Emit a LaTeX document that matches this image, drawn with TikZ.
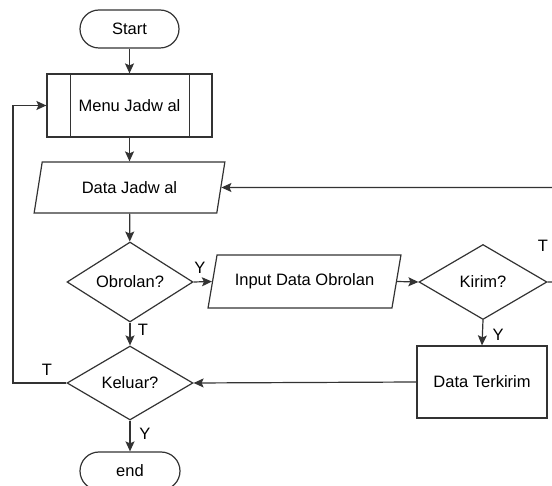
\documentclass[tikz,border=0pt]{standalone}
\usepackage{fontspec}
\setmainfont{Liberation Sans}
\usetikzlibrary{shapes.geometric,arrows.meta,calc}
\begin{document}
\begin{tikzpicture}[x=1pt,y=-1pt,
  every node/.style={font=\fontsize{16.5}{18}\selectfont, text=black},
  ln/.style={draw=black!80, line width=1.2pt},
  arr/.style={ln, -{Stealth[length=10pt,width=9pt,inset=2pt]}},
  term/.style={ln, rectangle, rounded corners=19pt, minimum width=99pt, minimum height=38pt, inner sep=0pt},
  proc/.style={ln, rectangle, inner sep=0pt},
  io/.style={ln, trapezium, trapezium stretches=true, inner sep=0pt},
  dec/.style={ln, diamond, inner sep=0pt},
  lbl/.style={inner sep=0pt}]
\useasboundingbox (0,0) rectangle (552,486);
\clip (0,0) rectangle (552,486);

\node[term] (start) at (129.5,29) {Start};
\node[proc, minimum width=165pt, minimum height=63pt] (menu) at (129.5,105.5) {Menu Jadw al};
\draw[ln] ($(menu.north west)+(24,0)$) -- ($(menu.south west)+(24,0)$);
\draw[ln] ($(menu.north east)+(-23,0)$) -- ($(menu.south east)+(-23,0)$);
\node[io, trapezium left angle=70, trapezium right angle=110, minimum width=191pt, minimum height=51pt] (data) at (129.5,187.5) {Data Jadw al};
\node[dec, minimum width=126pt, minimum height=73pt] (obr) at (130,282) {Obrolan?};
\node[io, trapezium left angle=65, trapezium right angle=115, minimum width=193pt, minimum height=53pt] (inp) at (304.5,281.5) {Input Data Obrolan};
\node[dec, minimum width=128pt, minimum height=75pt] (kirim) at (483,282) {Kirim?};
\node[proc, minimum width=130pt, minimum height=72pt] (term) at (482,382) {Data Terkirim};
\node[dec, minimum width=126pt, minimum height=74pt] (kel) at (130,383) {Keluar?};
\node[term, minimum width=100pt] (end) at (130,471) {end};

\coordinate (r1) at (575,282);
\coordinate (r2) at (575,187.5);
\coordinate (l1) at (13,383);
\coordinate (l2) at (13,105.5);

\draw[arr] (start) -- (menu);
\draw[arr] (menu) -- (data);
\draw[arr] (data) -- (obr);
\draw[arr] (obr.east) -- (inp.west);
\draw[arr] (inp.east) -- (kirim.west);
\draw[arr] (kirim.south) -- (term.north);
\draw[arr] (term.west) -- (kel.east);
\draw[arr] (obr.south) -- (kel.north);
\draw[arr] (kel.south) -- (end.north);
\draw[arr] (kirim.east) -- (r1) -- (r2) -- (data.east);
\draw[arr] (kel.west) -- (l1) -- (l2) -- (menu.west);

\node[lbl] (ly1) at (200,268) {Y};
\node[lbl] (lt1) at (143,330) {T};
\node[lbl] (ly2) at (145,434) {Y};
\node[lbl] (lt2) at (47,370) {T};
\node[lbl] (lt3) at (543,246) {T};
\node[lbl] (ly3) at (498,335) {Y};
\end{tikzpicture}
\end{document}
